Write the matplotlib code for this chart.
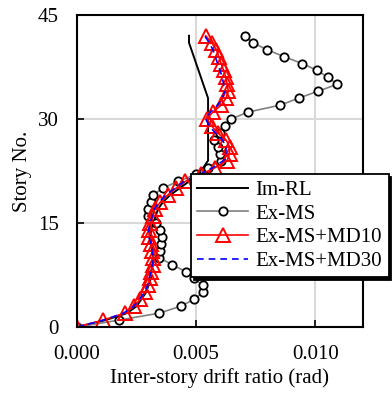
import matplotlib
matplotlib.use('Agg')
import matplotlib.pyplot as plt

plt.rcParams['font.family'] = 'Liberation Serif'
plt.rcParams['font.size'] = 15
plt.rcParams['mathtext.fontset'] = 'stix'

stories = list(range(0, 43))

im_rl = [0.0, 0.0012, 0.0021, 0.0025, 0.0027, 0.0029, 0.0030, 0.0031, 0.0031, 0.0032,
         0.0032, 0.0032, 0.0031, 0.0031, 0.0031, 0.0032, 0.0033, 0.0034, 0.0036, 0.0039,
         0.0043, 0.0047, 0.0050, 0.0053, 0.0055, 0.0055, 0.0055, 0.0055, 0.0055, 0.0055,
         0.0055, 0.0055, 0.0055, 0.0055, 0.0054, 0.0053, 0.0052, 0.0051, 0.0050, 0.0049,
         0.0048, 0.0047, 0.0047]

ex_ms = [0.0, 0.00177, 0.00345, 0.00435, 0.00492, 0.00528, 0.00528, 0.00492, 0.00456, 0.00398,
         0.00345, 0.00349, 0.00351, 0.00355, 0.00350, 0.00330, 0.00300, 0.00300, 0.00310, 0.00318,
         0.00359, 0.00423, 0.00500, 0.00550, 0.00605, 0.00600, 0.00590, 0.00575, 0.00600, 0.00620,
         0.00647, 0.00718, 0.00853, 0.00930, 0.01011, 0.01092, 0.01053, 0.01008, 0.00945, 0.00868,
         0.00797, 0.00738, 0.00703]

ex_ms_md10 = [0.0, 0.00110, 0.00200, 0.00240, 0.00265, 0.00285, 0.00298, 0.00305, 0.00312, 0.00318,
              0.00320, 0.00316, 0.00310, 0.00303, 0.00302, 0.00308, 0.00318, 0.00326, 0.00350, 0.00380,
              0.00415, 0.00455, 0.00520, 0.00580, 0.00630, 0.00640, 0.00640, 0.00625, 0.00590, 0.00565,
              0.00545, 0.00570, 0.00605, 0.00625, 0.00635, 0.00630, 0.00625, 0.00615, 0.00605, 0.00595,
              0.00585, 0.00565, 0.00540]

ex_ms_md30 = [0.0, 0.00112, 0.00195, 0.00238, 0.00262, 0.00283, 0.00296, 0.00303, 0.00310, 0.00316,
              0.00318, 0.00315, 0.00309, 0.00302, 0.00301, 0.00306, 0.00316, 0.00324, 0.00345, 0.00372,
              0.00410, 0.00450, 0.00515, 0.00570, 0.00615, 0.00625, 0.00625, 0.00610, 0.00580, 0.00555,
              0.00540, 0.00560, 0.00590, 0.00610, 0.00620, 0.00615, 0.00610, 0.00600, 0.00590, 0.00580,
              0.00570, 0.00555, 0.00535]

fig = plt.figure(figsize=(3.92, 3.94), dpi=100)
ax = fig.add_axes([0.1964, 0.170, 0.7296, 0.792])

ax.plot(im_rl, stories, color='black', lw=1.4, label='Im-RL')
ax.plot(ex_ms, stories, color='#808080', lw=1.2, marker='o', ms=6,
        mfc='white', mec='black', mew=1.3, label='Ex-MS')
ax.plot(ex_ms_md10, stories, color='red', lw=1.2, marker='^', ms=10.5,
        mfc='none', mec='red', mew=1.4, label='Ex-MS+MD10')
ax.plot(ex_ms_md30, stories, color='blue', lw=1.2, ls=(0, (4, 3)), label='Ex-MS+MD30')

ax.set_xlim(0, 0.012)
ax.set_ylim(0, 45)
ax.set_xticks([0.0, 0.005, 0.010])
ax.set_xticklabels(['0.000', '0.005', '0.010'])
ax.set_yticks([0, 15, 30, 45])
ax.grid(True, color='#d9d9d9', lw=1.5)
ax.set_axisbelow(True)
ax.tick_params(direction='in', length=5, width=1.2, pad=13)
for s in ax.spines.values():
    s.set_linewidth(1.5)

ax.set_xlabel('Inter-story drift ratio (rad)', labelpad=3)
ax.set_ylabel('Story No.', labelpad=4)

leg = ax.legend(loc='upper left', bbox_to_anchor=(0.399, 0.49), borderaxespad=0,
                frameon=True, fancybox=False, edgecolor='black', framealpha=1,
                shadow={'color': 'black', 'alpha': 1},
                handlelength=2.45, handletextpad=0.35, labelspacing=0.2,
                borderpad=0.3)
leg.get_frame().set_linewidth(1.3)

fig.savefig('out.png', dpi=100)
